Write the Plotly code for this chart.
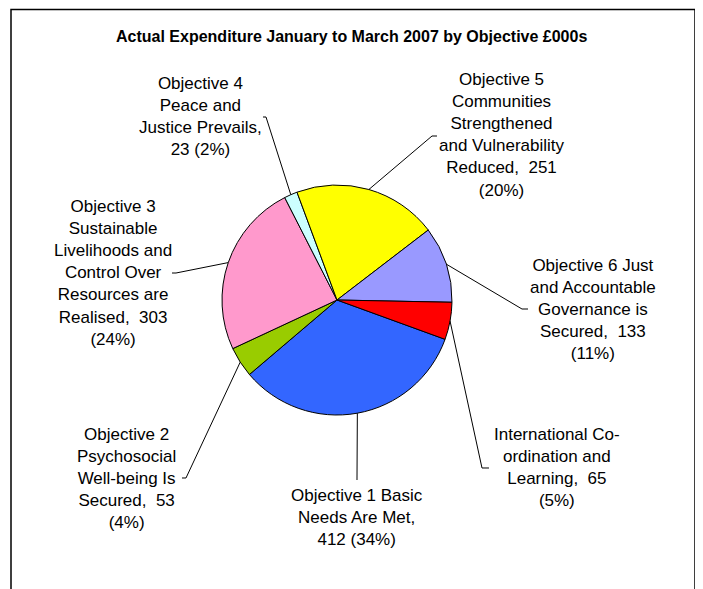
import math
import plotly.graph_objects as go

# ---- data ----
categories = [
    "Objective 1 Basic Needs Are Met",
    "Objective 2 Psychosocial Well-being Is Secured",
    "Objective 3 Sustainable Livelihoods and Control Over Resources are Realised",
    "Objective 4 Peace and Justice Prevails",
    "Objective 5 Communities Strengthened and Vulnerability Reduced",
    "Objective 6 Just and Accountable Governance is Secured",
    "International Co-ordination and Learning",
]
values = [412, 53, 303, 23, 251, 133, 65]
percents = [34, 4, 24, 2, 20, 11, 5]
label_templates = [
    "Objective 1 Basic<br>Needs Are Met,<br>{v} ({p}%)",
    "Objective 2<br>Psychosocial<br>Well-being Is<br>Secured,\u00a0 {v}<br>({p}%)",
    "Objective 3<br>Sustainable<br>Livelihoods and<br>Control Over<br>Resources are<br>Realised,\u00a0 {v}<br>({p}%)",
    "Objective 4<br>Peace and<br>Justice Prevails,<br>{v} ({p}%)",
    "Objective 5<br>Communities<br>Strengthened<br>and Vulnerability<br>Reduced,\u00a0 {v}<br>({p}%)",
    "Objective 6 Just<br>and Accountable<br>Governance is<br>Secured,\u00a0 {v}<br>({p}%)",
    "International Co-<br>ordination and<br>Learning,\u00a0 {v}<br>({p}%)",
]
colors = ["#3366FF", "#99CC00", "#FF99CC", "#CCFFFF", "#FFFF00", "#9999FF", "#FF0000"]
title = "Actual Expenditure January to March 2007 by Objective £000s"

# ---- layout constants (pixels, in screenshot coordinates) ----
W, H = 703, 589
OFF = 8  # page body margin
CX, CY, R = 337, 300, 115
ROTATION = 110
label_pos = [(357, 517), (126, 478), (113, 273), (200, 117), (502, 135), (593, 309), (557, 467)]
leader_pts = [
    [(357, 480)],
    [(186, 478), (182, 478)],
    [(176, 273), (172, 273)],
    [(266, 117), (263, 117)],
    [(432, 136), (437, 136)],
    [(522, 309), (528, 309)],
    [(482, 468), (489, 468)],
]

def px(x):
    return (x - OFF) / W

def py(y):
    return 1 - (y - OFF) / H

fig = go.Figure()
fig.add_trace(go.Pie(
    labels=categories,
    values=values,
    sort=False,
    direction="clockwise",
    rotation=ROTATION,
    textinfo="none",
    hoverinfo="label+value+percent",
    marker=dict(colors=colors, line=dict(color="black", width=1)),
    domain=dict(x=[px(CX - R), px(CX + R)], y=[py(CY + R), py(CY - R)]),
    showlegend=False,
))

total = sum(values)
shapes = []
annotations = []
cum = 0
for i, v in enumerate(values):
    mid = ROTATION + (cum + v / 2) / total * 360
    cum += v
    a = math.radians(mid)
    ex, ey = CX + R * math.sin(a), CY - R * math.cos(a)
    pts = [(ex, ey)] + leader_pts[i]
    path = "M " + " L ".join(f"{px(x):.5f},{py(y):.5f}" for x, y in pts)
    shapes.append(dict(type="path", path=path, xref="paper", yref="paper",
                       line=dict(color="black", width=1)))
    lx, ly = label_pos[i]
    annotations.append(dict(
        x=px(lx), y=py(ly), xref="paper", yref="paper",
        xanchor="center", yanchor="middle", align="center",
        text=label_templates[i].format(v=v, p=percents[i]),
        showarrow=False,
        font=dict(family="Liberation Sans, Arial, sans-serif", size=17, color="black"),
    ))

annotations.append(dict(
    x=px(351), y=py(36), xref="paper", yref="paper",
    xanchor="center", yanchor="middle",
    text=f"<b>{title}</b>", showarrow=False,
    font=dict(family="Liberation Sans, Arial, sans-serif", size=16, color="black"),
))

# chart frame
shapes.append(dict(type="rect", xref="paper", yref="paper",
                   x0=px(11), x1=px(695), y0=py(640), y1=py(9.5),
                   line=dict(color="black", width=1.5)))

fig.update_layout(
    width=W, height=H,
    margin=dict(l=0, r=0, t=0, b=0),
    paper_bgcolor="white",
    plot_bgcolor="white",
    shapes=shapes,
    annotations=annotations,
)

fig.write_html("out.html")
